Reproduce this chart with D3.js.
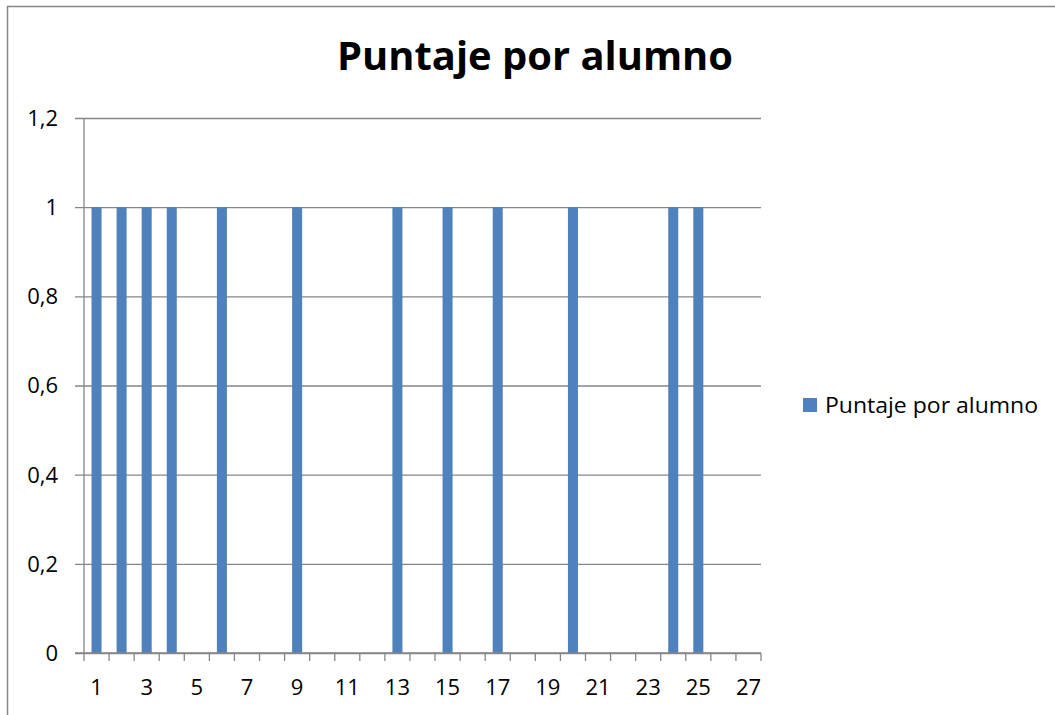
<!DOCTYPE html>
<html>
<head>
<meta charset="utf-8">
<script src="https://cdn.jsdelivr.net/npm/d3@7"></script>
<style>
  body { margin: 0; background: #fff; }
  text { font-family: "Open Sans", "Noto Sans", sans-serif; fill: #000; }
</style>
</head>
<body>
<div id="chart"></div>
<script>
// data
const alumnos = d3.range(1, 28)
const puntajes = [1, 1, 1, 1, 0, 1, 0, 0, 1, 0, 0, 0, 1, 0, 1, 0, 1, 0, 0, 1, 0, 0, 0, 1, 1, 0, 0]
const yTicks = [0, 0.2, 0.4, 0.6, 0.8, 1, 1.2]
const xLabels = alumnos.filter(d => d % 2 === 1)
const seriesName = "Puntaje por alumno"
const title = "Puntaje por alumno"

const width = 1055, height = 715
const plot = { left: 84, right: 761, top: 118, bottom: 653 }
const gridColor = "#868686"
const barColor = "#4F81BD"

const svg = d3.select("#chart").append("svg")
  .attr("width", width)
  .attr("height", height)

// outer chart border
svg.append("rect")
  .attr("x", 7.5).attr("y", 6.5)
  .attr("width", width + 20).attr("height", height + 20)
  .attr("fill", "none")
  .attr("stroke", gridColor)
  .attr("stroke-width", 1.5)

const x = d3.scaleBand()
  .domain(alumnos)
  .range([plot.left, plot.right])
  .paddingInner(0.6)
  .paddingOuter(0.3)

const xBand = d3.scaleBand()
  .domain(alumnos)
  .range([plot.left, plot.right])

const y = d3.scaleLinear()
  .domain([0, 1.2])
  .range([plot.bottom, plot.top])

const fmt = d => d3.format(".1~f")(d).replace(".", ",")

// horizontal gridlines + y labels
const yAxis = d3.axisLeft(y)
  .tickValues(yTicks)
  .tickSize(-(plot.right - plot.left) - 9)
  .tickFormat(fmt)

svg.append("g")
  .attr("transform", `translate(${plot.left - 9},0)`)
  .call(yAxis)
  .call(g => g.select(".domain").remove())
  .call(g => g.selectAll(".tick line")
    .attr("stroke", gridColor).attr("stroke-width", 1.3))
  .call(g => g.selectAll(".tick text")
    .attr("font-size", 22)
    .attr("x", -17)
    .attr("dy", "0.34em"))

// y axis line
svg.append("line")
  .attr("x1", plot.left).attr("x2", plot.left)
  .attr("y1", plot.top).attr("y2", plot.bottom)
  .attr("stroke", gridColor).attr("stroke-width", 1.3)

// bars
svg.append("g")
  .selectAll("rect")
  .data(alumnos.map((a, i) => ({ alumno: a, valor: puntajes[i] })))
  .join("rect")
    .attr("x", d => x(d.alumno))
    .attr("width", x.bandwidth())
    .attr("y", d => y(d.valor))
    .attr("height", d => y(0) - y(d.valor))
    .attr("fill", barColor)

// x axis: ticks between categories
const bounds = alumnos.map(a => xBand(a)).concat([plot.right])
const xg = svg.append("g")
xg.append("line")
  .attr("x1", plot.left - 9).attr("x2", plot.right)
  .attr("y1", plot.bottom).attr("y2", plot.bottom)
  .attr("stroke", gridColor).attr("stroke-width", 1.3)
xg.selectAll(".xtick")
  .data(bounds)
  .join("line")
    .attr("class", "xtick")
    .attr("x1", d => d).attr("x2", d => d)
    .attr("y1", plot.bottom).attr("y2", plot.bottom + 8)
    .attr("stroke", gridColor).attr("stroke-width", 1.3)
xg.selectAll(".xlabel")
  .data(xLabels)
  .join("text")
    .attr("class", "xlabel")
    .attr("x", d => xBand(d) + xBand.bandwidth() / 2)
    .attr("y", 695)
    .attr("text-anchor", "middle")
    .attr("font-size", 22)
    .text(d => d)

// title
svg.append("text")
  .attr("x", 535)
  .attr("y", 70)
  .attr("text-anchor", "middle")
  .attr("font-size", 40)
  .attr("font-weight", "bold")
  .attr("textLength", 396)
  .attr("lengthAdjust", "spacingAndGlyphs")
  .text(title)

// legend
const legend = svg.append("g").attr("transform", "translate(803,398)")
legend.append("rect")
  .attr("width", 14).attr("height", 14)
  .attr("fill", barColor)
legend.append("text")
  .attr("x", 22)
  .attr("y", 15)
  .attr("font-size", 22)
  .attr("textLength", 213)
  .attr("lengthAdjust", "spacingAndGlyphs")
  .text(seriesName)
</script>
</body>
</html>
